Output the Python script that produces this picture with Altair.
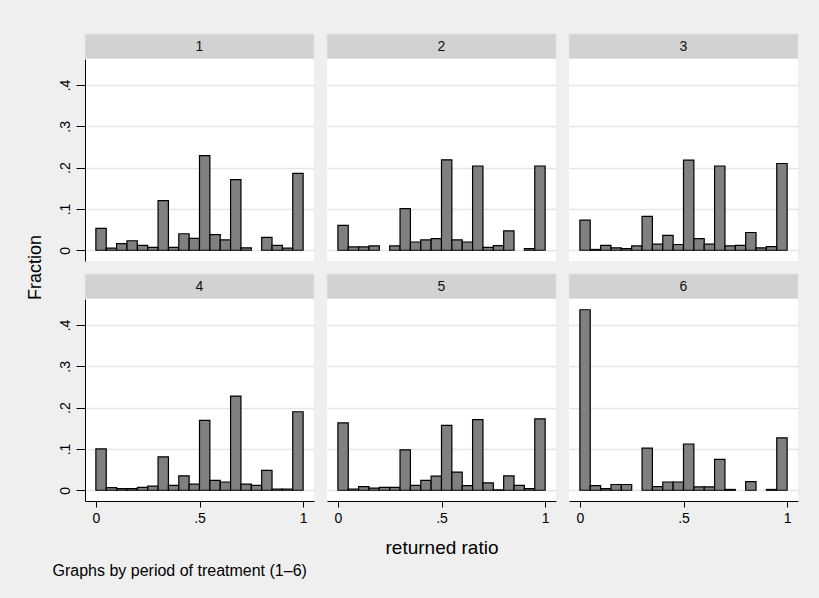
import altair as alt
import pandas as pd

# ---- data ----
periods = ["1", "2", "3", "4", "5", "6"]
bin_lo = [0.00, 0.05, 0.10, 0.15, 0.20, 0.25, 0.30, 0.35, 0.40, 0.45,
          0.50, 0.55, 0.60, 0.65, 0.70, 0.75, 0.80, 0.85, 0.90, 0.95]
bin_hi = [0.05, 0.10, 0.15, 0.20, 0.25, 0.30, 0.35, 0.40, 0.45, 0.50,
          0.55, 0.60, 0.65, 0.70, 0.75, 0.80, 0.85, 0.90, 0.95, 1.00]

frac_1 = [0.053, 0.005, 0.016, 0.023, 0.012, 0.007, 0.120, 0.007, 0.040, 0.029,
          0.229, 0.038, 0.025, 0.171, 0.006, 0.000, 0.031, 0.012, 0.005, 0.186]
frac_2 = [0.060, 0.008, 0.008, 0.0105, 0.000, 0.0105, 0.101, 0.020, 0.025, 0.028,
          0.219, 0.025, 0.020, 0.204, 0.007, 0.011, 0.047, 0.000, 0.004, 0.204]
frac_3 = [0.073, 0.002, 0.012, 0.006, 0.004, 0.0105, 0.082, 0.015, 0.036, 0.014,
          0.218, 0.028, 0.015, 0.204, 0.0105, 0.012, 0.043, 0.006, 0.009, 0.210]
frac_4 = [0.100, 0.0065, 0.004, 0.004, 0.007, 0.0098, 0.081, 0.012, 0.035, 0.015,
          0.169, 0.024, 0.020, 0.228, 0.015, 0.012, 0.048, 0.003, 0.003, 0.190]
frac_5 = [0.163, 0.003, 0.009, 0.005, 0.007, 0.007, 0.098, 0.012, 0.024, 0.034,
          0.157, 0.044, 0.011, 0.171, 0.018, 0.001, 0.035, 0.012, 0.004, 0.173]
frac_6 = [0.437, 0.011, 0.004, 0.014, 0.014, 0.000, 0.102, 0.009, 0.020, 0.020,
          0.112, 0.008, 0.008, 0.075, 0.002, 0.000, 0.021, 0.000, 0.002, 0.127]
all_fracs = [frac_1, frac_2, frac_3, frac_4, frac_5, frac_6]

y_ticks = [0, 0.1, 0.2, 0.3, 0.4]
x_ticks = [0, 0.5, 1]

rows = []
for per, fr in zip(periods, all_fracs):
    for lo, hi, v in zip(bin_lo, bin_hi, fr):
        if v > 0:
            rows.append({"period": per, "x0": lo, "x1": hi, "frac": v})
df = pd.DataFrame(rows)

FONT = "Liberation Sans"
GRID = "#e6e6e6"
W, H = 229, 202
xscale = alt.Scale(domain=[-0.0525, 1.0525], nice=False, zero=False)
yscale = alt.Scale(domain=[-0.026, 0.463], nice=False, zero=False)


def panel(i):
    per = periods[i]
    r, c = divmod(i, 3)
    left = c == 0
    bottom = r == 1

    ykw = dict(values=y_ticks, grid=True, gridColor=GRID, gridWidth=1.3,
               domain=left, ticks=left, labels=left, domainColor="black",
               domainWidth=1, tickColor="black", tickSize=9, tickWidth=1,
               labelAngle=270, labelAlign="center", labelBaseline="bottom",
               labelPadding=4, labelFontSize=14, labelColor="black",
               labelExpr="datum.value == 0 ? '0' : '.' + round(datum.value * 10)",
               title=None)
    if i == 0:
        ykw.update(title="Fraction", titleX=-50, titleY=208, titleAngle=270,
                   titleAlign="center", titleBaseline="middle",
                   titleFontSize=18, titleFontWeight="normal", titleColor="black")
    yaxis = alt.Axis(**ykw)

    if bottom:
        xkw = dict(values=x_ticks, grid=False, domainColor="black", domainWidth=1,
                   tickColor="black", tickSize=6, tickWidth=1, labelFontSize=14,
                   labelColor="black", labelPadding=4, labelAngle=0,
                   labelExpr="datum.value == 0.5 ? '.5' : format(datum.value, 'd')",
                   title=None)
        if i == 4:
            xkw.update(title="returned ratio", titleX=W / 2, titleY=46,
                       titleAlign="center", titleBaseline="middle",
                       titleFontSize=19, titleFontWeight="normal", titleColor="black")
        if i == 3:
            xkw.update(title="Graphs by period of treatment (1\u20136)", titleX=-33,
                       titleY=74, titleAlign="left", titleBaseline="alphabetic",
                       titleFontSize=16, titleFontWeight="normal", titleColor="black")
        xaxis = alt.Axis(**xkw)
    else:
        xaxis = None

    bars = alt.Chart(df[df.period == per]).mark_rect(
        fill="#808080", stroke="black", strokeWidth=1.2
    ).encode(
        x=alt.X("x0:Q", scale=xscale, axis=xaxis),
        x2="x1:Q",
        y=alt.Y("frac:Q", scale=yscale, axis=yaxis),
        y2=alt.datum(0),
    )

    hdr = pd.DataFrame({"label": [per]})
    strip = alt.Chart(hdr).mark_rect(fill="#d2d2d2", stroke="#dde2ea", strokeWidth=1).encode(
        x=alt.value(0), x2=alt.value(W), y=alt.value(-25), y2=alt.value(-0.5)
    )
    label = alt.Chart(hdr).mark_text(font=FONT, fontSize=14, color="#111111").encode(
        x=alt.value(W / 2), y=alt.value(-12), text="label:N"
    )
    return alt.layer(bars, strip, label).properties(width=W, height=H)


chart = alt.concat(
    *[panel(i) for i in range(6)],
    columns=3,
    spacing={"row": 38, "column": 13},
    bounds="flush",
).properties(
    padding={"left": 26, "top": 33, "right": 20, "bottom": 20},
    background="#efefef",
).configure(font=FONT).configure_view(strokeWidth=0, fill="white")

chart.save("out.html", embed_options={"renderer": "svg", "actions": False})
